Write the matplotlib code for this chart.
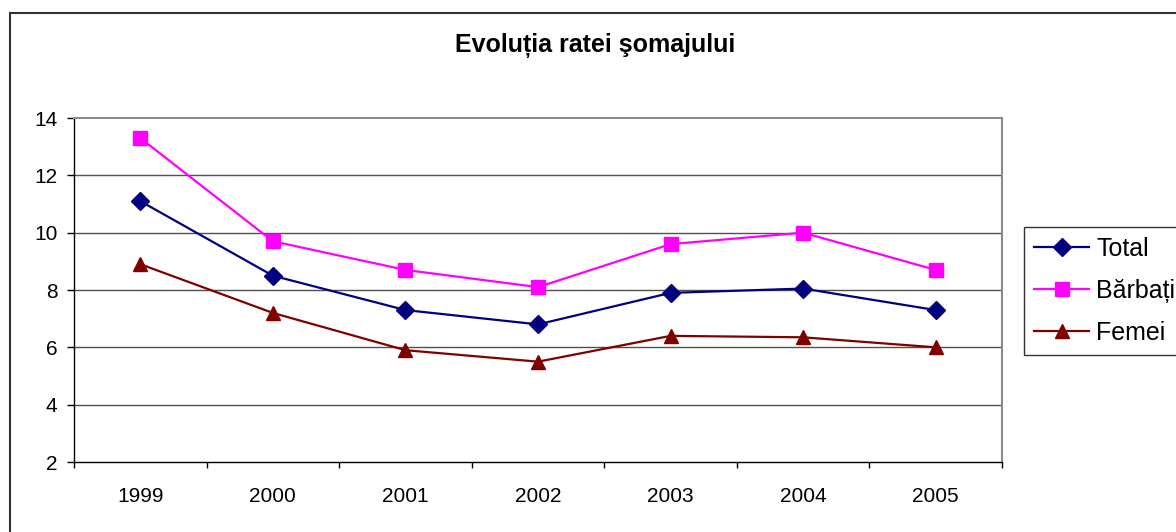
import matplotlib
matplotlib.use("Agg")
import matplotlib.pyplot as plt
from matplotlib.patches import Rectangle

years = ["1999", "2000", "2001", "2002", "2003", "2004", "2005"]
total = [11.1, 8.5, 7.3, 6.8, 7.9, 8.05, 7.3]
barbati = [13.3, 9.7, 8.7, 8.1, 9.6, 10.0, 8.7]
femei = [8.9, 7.2, 5.9, 5.5, 6.4, 6.35, 6.0]
yticks = [2, 4, 6, 8, 10, 12, 14]

plt.rcParams['font.family'] = ['Liberation Sans', 'DejaVu Sans']

fig = plt.figure(figsize=(11.76, 5.32), dpi=100)
ax = fig.add_axes([74/1176, 1-462/532, 928/1176, 344/532])

x = list(range(len(years)))
ax.plot(x, total, color='#000080', lw=1.6, marker='D', ms=9, label='Total', zorder=5)
ax.plot(x, barbati, color='#FF00FF', lw=1.6, marker='s', ms=9.5, label='Bărbați', zorder=5)
ax.plot(x, femei, color='#800000', lw=1.6, marker='^', ms=10.5, label='Femei', zorder=5)

ax.set_xlim(-0.5, len(years) - 0.5)
ax.set_ylim(2, 14)
ax.set_yticks(yticks)
ax.set_yticklabels([str(v) for v in yticks], fontsize=15)
ax.set_xticks(x)
ax.set_xticklabels(years, fontsize=15)
ax.set_xticks([i - 0.5 for i in range(len(years) + 1)], minor=True)
ax.tick_params(axis='x', which='major', length=0, pad=18)
ax.tick_params(axis='x', which='minor', length=4, width=1, direction='out', color='black')
ax.tick_params(axis='y', which='major', length=5, width=1, direction='out', pad=7, color='black')

for v in yticks[1:-1]:
    ax.axhline(v, color='#505050', lw=1, zorder=1)
for s in ['top', 'right']:
    ax.spines[s].set_color('#8c8c8c')
    ax.spines[s].set_linewidth(1.5)
for s in ['left', 'bottom']:
    ax.spines[s].set_color('black')
    ax.spines[s].set_linewidth(1)

fig.text(595/1176, 1-45/532, "Evoluția ratei şomajului", ha='center', va='center',
         fontsize=18, fontweight='bold')

leg = fig.legend(loc='upper left', bbox_to_anchor=(1024/1176, 1-227/532),
                 fontsize=18, frameon=True, fancybox=False, shadow=False,
                 handlelength=2.2, handletextpad=0.3, labelspacing=0.72,
                 borderpad=0.4, borderaxespad=0)
leg.get_frame().set_edgecolor('black')
leg.get_frame().set_linewidth(1)

fig.patches.append(Rectangle((10/1176, -0.1), 1.2, 1-13/532 + 0.1, transform=fig.transFigure,
                             fill=False, edgecolor='#333333', lw=1.5))

fig.savefig("out.png", dpi=100)
